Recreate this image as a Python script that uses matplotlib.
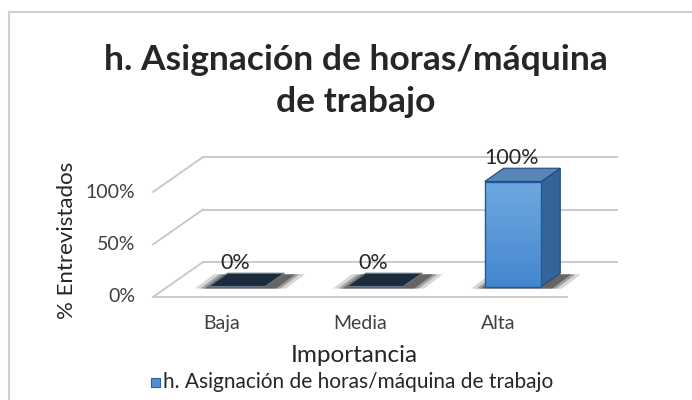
import numpy as np
import matplotlib.pyplot as plt
from matplotlib.patches import Polygon, Rectangle
from matplotlib.colors import LinearSegmentedColormap
from matplotlib.lines import Line2D

# =============================
# Data
# =============================

categories = ["Baja", "Media", "Alta"]
values = [0, 0, 100]
value_labels = ["0%", "0%", "100%"]
y_ticks = [0, 50, 100]
y_tick_labels = ["0%", "50%", "100%"]

title = "h. Asignación de horas/máquina\nde trabajo"
series_name = "h. Asignación de horas/máquina de trabajo"
x_title = "Importancia"
y_title = "% Entrevistados"

plt.rcParams['font.family'] = ['Lato', 'DejaVu Sans']

# =============================
# Figure / axes
# =============================

W, H = 692, 400
fig = plt.figure(figsize=(W / 100, H / 100), dpi=100)
ax = fig.add_axes([153 / W, 103 / H, 414 / W, 105 / H])
ax.set_xlim(0, len(categories))
ax.set_ylim(0, 100)
ax.axis('off')

# depth of the 3d box (in data units)
DX, DY = 0.362, 33.3
grid_col = '#C6C6C6'

# side wall + back wall grid lines
for v in y_ticks:
    ax.plot([0, DX], [v, v + DY], color=grid_col, lw=1.3, clip_on=False)
    ax.plot([DX, len(categories) + DX], [v + DY, v + DY], color=grid_col, lw=1.3, clip_on=False)
# floor front edge
ax.plot([0, len(categories)], [0, 0], color=grid_col, lw=1.3, clip_on=False)

for v, lab in zip(y_ticks, y_tick_labels):
    ax.text(-0.13, v, lab, ha='right', va='center', fontsize=14, color='#404040')

for i, c in enumerate(categories):
    ax.text(i + 0.5, -25, c, ha='center', va='center', fontsize=14, color='#404040')

# =============================
# 3D-looking bars
# =============================

f0, f1 = 0.30, 0.68   # front / back position of bars inside the depth
bw = 0.41
dd = f1 - f0

front_cmap = LinearSegmentedColormap.from_list('front', ['#4487CF', '#6EA8E0'])

for i, v in enumerate(values):
    cx = i + 0.5
    x0 = cx - bw / 2 + f0 * DX
    y0 = f0 * DY

    # soft shadow on the floor (a few stacked layers)
    for k, a in [(0.10, 0.18), (0.06, 0.3), (0.03, 0.45)]:
        shadow = Polygon([(x0 - k, y0 - 2), (x0 + bw + 0.05 + k, y0 - 2),
                          (x0 + bw + 0.05 + k + dd * DX, y0 - 1 + dd * DY),
                          (x0 + dd * DX - k, y0 - 1 + dd * DY)],
                         closed=True, fc='#202020', ec='none', alpha=a, zorder=2, clip_on=False)
        ax.add_patch(shadow)

    top = [(x0, y0 + v), (x0 + bw, y0 + v),
           (x0 + bw + dd * DX, y0 + v + dd * DY), (x0 + dd * DX, y0 + v + dd * DY)]

    if v == 0:
        ax.add_patch(Polygon(top, closed=True, fc='#1D2C3C', ec='#6A7888', lw=0.8,
                             zorder=4, clip_on=False))
    else:
        side = [(x0 + bw, y0), (x0 + bw + dd * DX, y0 + dd * DY),
                (x0 + bw + dd * DX, y0 + v + dd * DY), (x0 + bw, y0 + v)]
        ax.add_patch(Polygon(side, closed=True, fc='#35649A', ec='#23497A', lw=0.8,
                             zorder=4, clip_on=False))
        ax.add_patch(Polygon(top, closed=True, fc='#5A85B8', ec='#23497A', lw=0.8,
                             zorder=4, clip_on=False))
        face = Rectangle((x0, y0), bw, v, fc='none', ec='#1F5A9E', lw=1.0,
                         zorder=6, clip_on=False)
        ax.add_patch(face)
        grad = np.linspace(0, 1, 100).reshape(-1, 1)
        im = ax.imshow(grad, extent=[x0, x0 + bw, y0, y0 + v], origin='lower',
                       aspect='auto', cmap=front_cmap, zorder=5)
        im.set_clip_path(face)
        im.set_clip_on(True)

    ax.text(cx + f0 * DX - 0.01, v + f1 * DY + 10, value_labels[i],
            ha='center', va='center', fontsize=15.5, color='#262626', zorder=7)

ax.set_xlim(0, len(categories))
ax.set_ylim(0, 100)

# =============================
# Titles
# =============================

fig.text(356 / W, 1 - 81 / H, title, ha='center', va='center', fontsize=25.5,
         fontweight='bold', color='#262626', linespacing=1.35)
fig.text(67 / W, 1 - 240 / H, y_title, rotation=90, ha='center', va='center',
         fontsize=16, color='#262626')
fig.text(354 / W, 1 - 356 / H, x_title, ha='center', va='center', fontsize=17.5,
         color='#262626')

# legend
fig.add_artist(Rectangle((151 / W, 1 - 387 / H), 9 / W, 9 / H, transform=fig.transFigure,
                         fc='#4F8FD6', ec='#2F5F9F', lw=0.8))
fig.text(163 / W, 1 - 382 / H, series_name, ha='left', va='center', fontsize=15,
         color='#262626')

# chart border
fig.add_artist(Line2D([9 / W, 9 / W], [0, 1 - 12 / H], transform=fig.transFigure,
                      color='#D0D0D0', lw=1.5))
fig.add_artist(Line2D([9 / W, 1], [1 - 12 / H, 1 - 12 / H], transform=fig.transFigure,
                      color='#D0D0D0', lw=1.5))

fig.savefig("out.png", dpi=100)
